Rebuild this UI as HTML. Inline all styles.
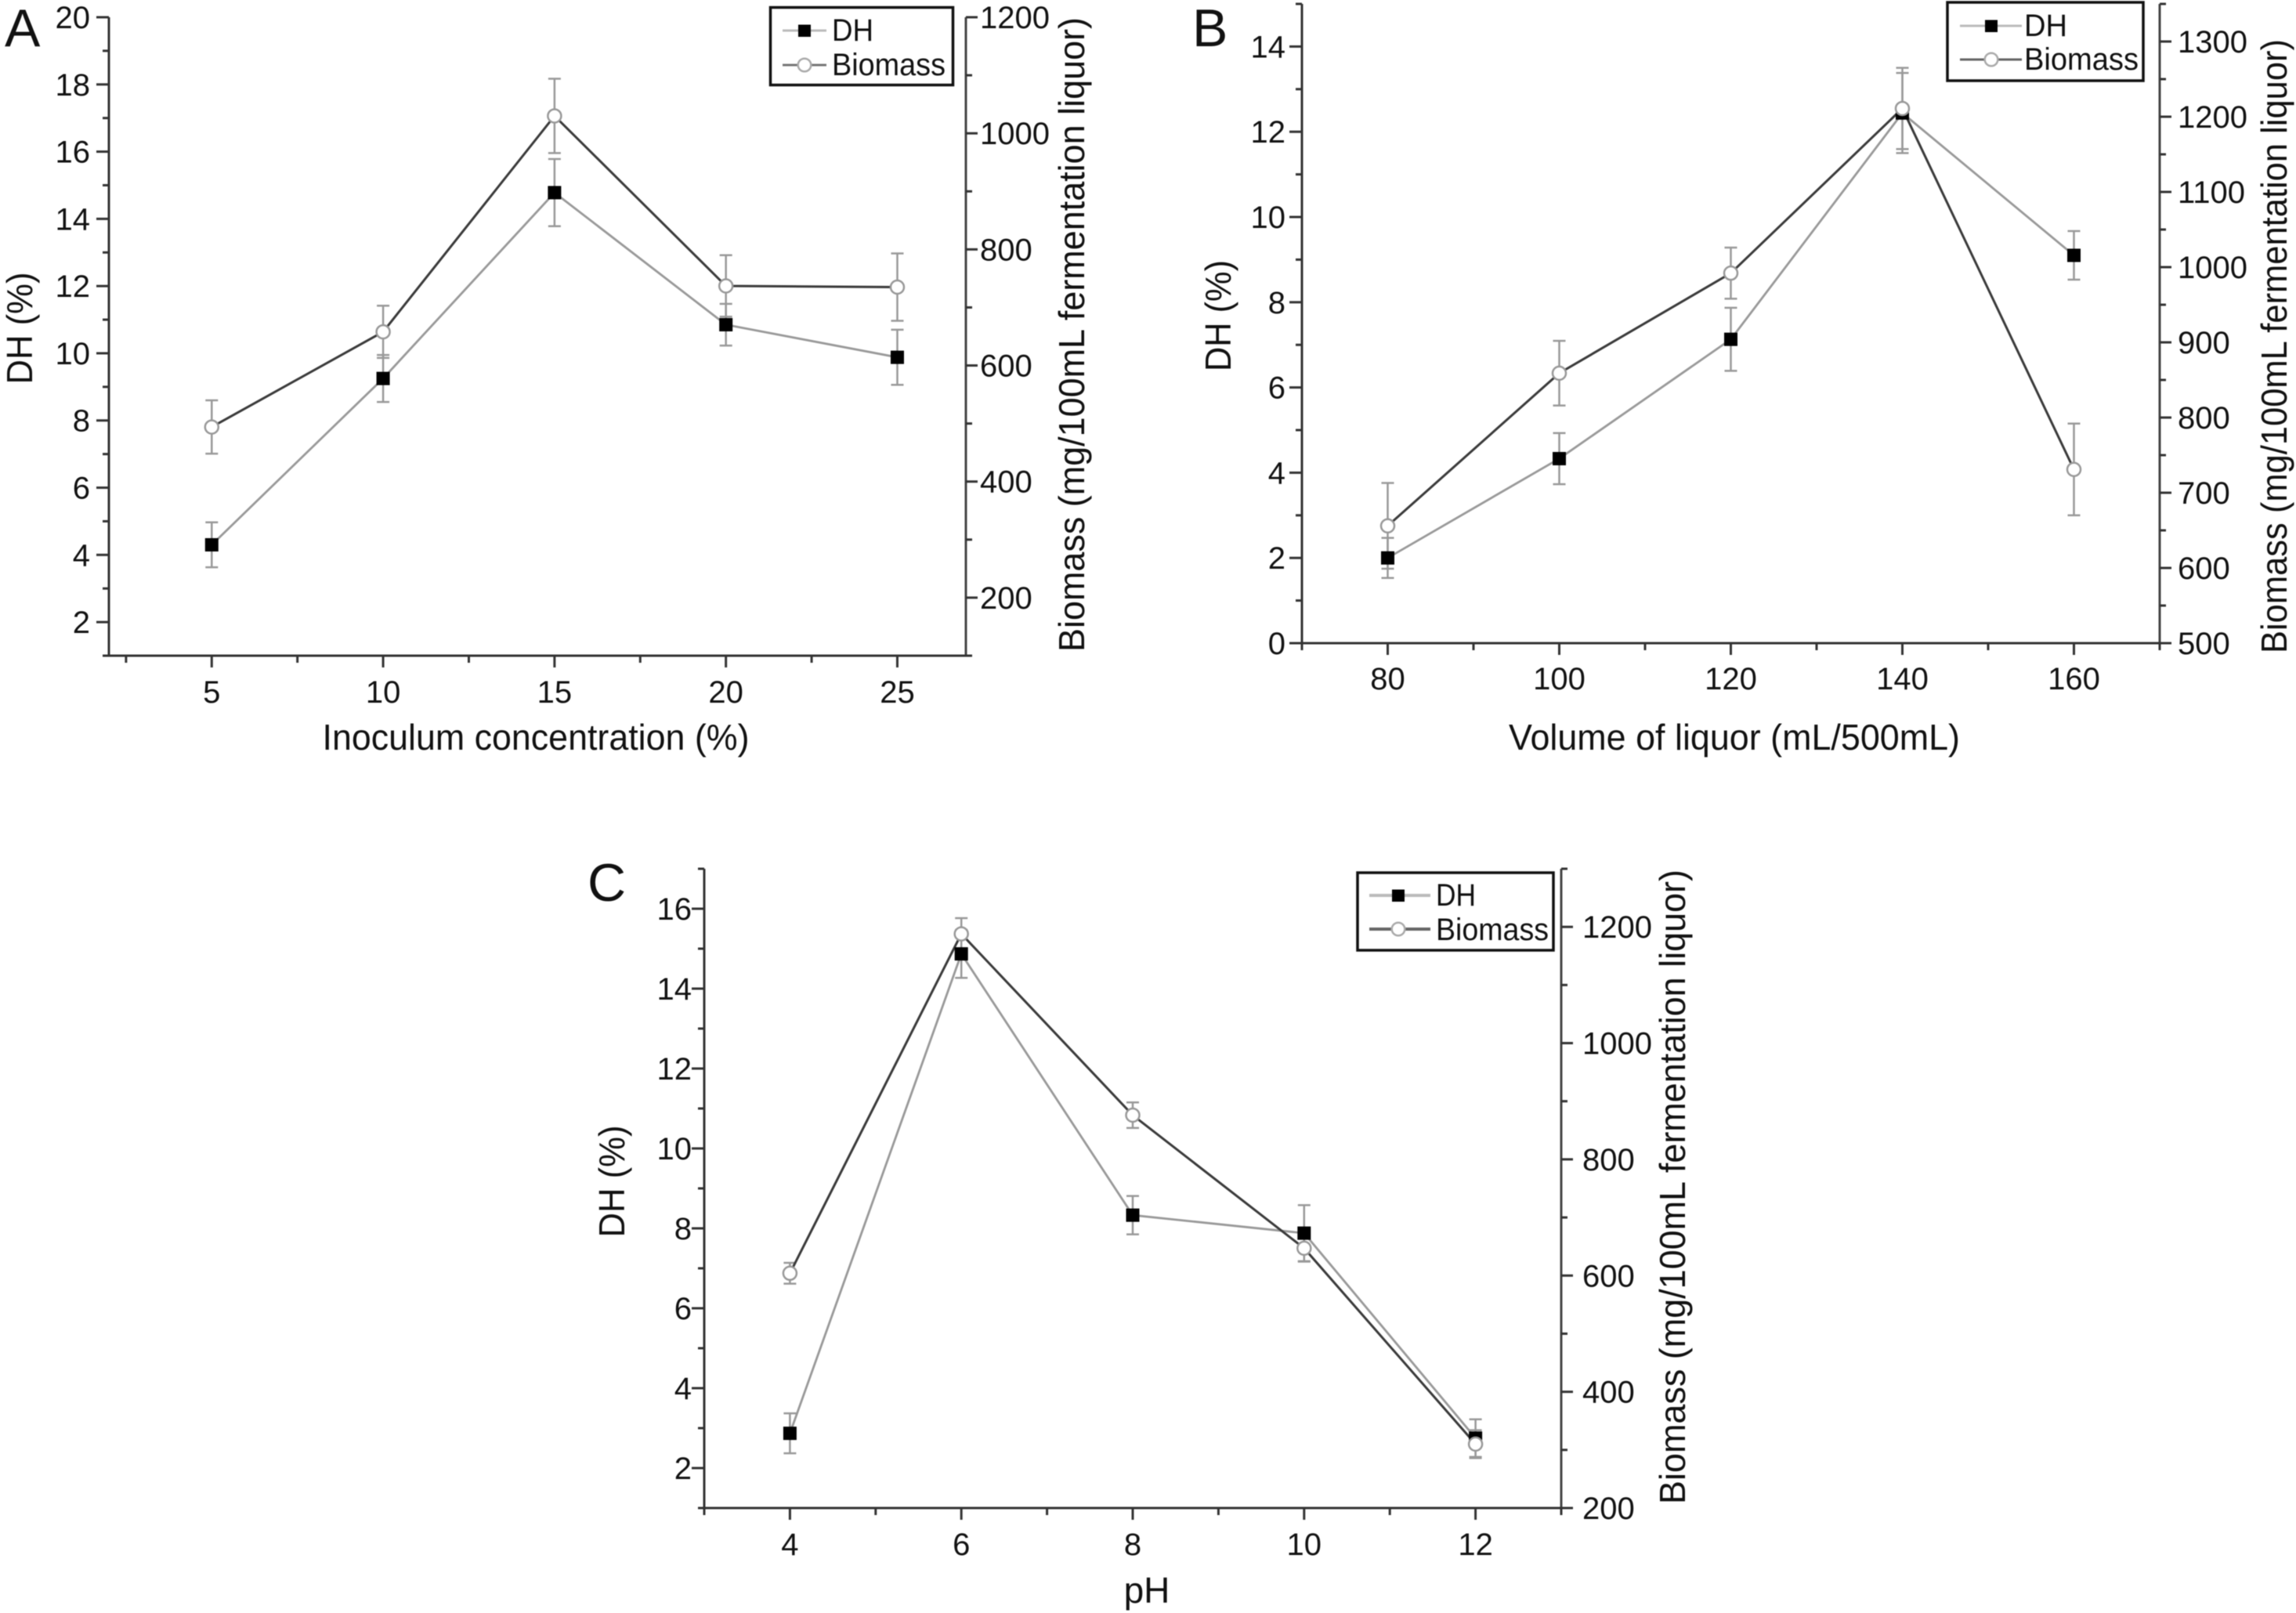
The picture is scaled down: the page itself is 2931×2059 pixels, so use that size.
<!DOCTYPE html>
<html lang="en">
<head>
<meta charset="utf-8">
<title>DH and biomass charts</title>
<style>
html,body{margin:0;padding:0;background:#fff;}
svg{display:block;font-family:"Liberation Sans",sans-serif;fill:#111;filter:blur(0.4px);}
.tick-label{font-size:40px;}
.axis-title{font-size:46px;}
.legend-text{font-size:40px;}
.panel-letter{font-size:68px;}
</style>
</head>
<body>
<svg id="figure" xmlns="http://www.w3.org/2000/svg" width="2931" height="2059" viewBox="0 0 2931 2059">
  <rect x="0" y="0" width="2931" height="2059" fill="#fff"/>

  <g id="panel-a">
    <text class="panel-letter" x="6" y="59">A</text>
    <text class="axis-title" x="684" y="957" text-anchor="middle" textLength="545" lengthAdjust="spacingAndGlyphs">Inoculum concentration (%)</text>
    <text class="axis-title" transform="translate(41,419) rotate(-90)" text-anchor="middle" textLength="143" lengthAdjust="spacingAndGlyphs">DH (%)</text>
    <text class="axis-title" transform="translate(1384,427) rotate(-90)" text-anchor="middle" textLength="810" lengthAdjust="spacingAndGlyphs">Biomass (mg/100mL fermentation liquor)</text>
  </g>

  <g id="panel-b">
    <text class="panel-letter" x="1522" y="59">B</text>
    <text class="axis-title" x="2214" y="957" text-anchor="middle" textLength="576" lengthAdjust="spacingAndGlyphs">Volume of liquor (mL/500mL)</text>
    <text class="axis-title" transform="translate(1571,403) rotate(-90)" text-anchor="middle" textLength="142" lengthAdjust="spacingAndGlyphs">DH (%)</text>
    <text class="axis-title" transform="translate(2919,442) rotate(-90)" text-anchor="middle" textLength="784" lengthAdjust="spacingAndGlyphs">Biomass (mg/100mL fermentation liquor)</text>
  </g>

  <g id="panel-c">
    <text class="panel-letter" x="750" y="1150">C</text>
    <text class="axis-title" x="1464" y="2046" text-anchor="middle">pH</text>
    <text class="axis-title" transform="translate(797,1508) rotate(-90)" text-anchor="middle" textLength="143" lengthAdjust="spacingAndGlyphs">DH (%)</text>
    <text class="axis-title" transform="translate(2151,1515) rotate(-90)" text-anchor="middle" textLength="810" lengthAdjust="spacingAndGlyphs">Biomass (mg/100mL fermentation liquor)</text>
  </g>

  <g id="legends">
    <g>
      <rect x="983.5" y="9.5" width="233" height="99" fill="#fff" stroke="#111" stroke-width="3.5"/>
      <line x1="999" y1="39" x2="1055" y2="39" stroke="#bbb" stroke-width="3"/>
      <rect x="1019" y="31.5" width="16" height="15.5" fill="#000"/>
      <text class="legend-text" x="1062" y="52" textLength="53" lengthAdjust="spacingAndGlyphs">DH</text>
      <line x1="999" y1="83" x2="1055" y2="83" stroke="#777" stroke-width="3"/>
      <circle cx="1027" cy="83" r="8.3" fill="#fff" stroke="#aaa" stroke-width="2.5"/>
      <text class="legend-text" x="1062" y="96" textLength="145" lengthAdjust="spacingAndGlyphs">Biomass</text>
    </g>
    <g>
      <rect x="2486" y="3" width="250" height="100" fill="#fff" stroke="#111" stroke-width="3.5"/>
      <line x1="2502" y1="33" x2="2581" y2="33" stroke="#bbb" stroke-width="3"/>
      <rect x="2534" y="25.5" width="16" height="15.5" fill="#000"/>
      <text class="legend-text" x="2584" y="46" textLength="55" lengthAdjust="spacingAndGlyphs">DH</text>
      <line x1="2502" y1="76" x2="2581" y2="76" stroke="#666" stroke-width="3"/>
      <circle cx="2542" cy="76" r="8.3" fill="#fff" stroke="#aaa" stroke-width="2.5"/>
      <text class="legend-text" x="2584" y="89" textLength="146" lengthAdjust="spacingAndGlyphs">Biomass</text>
    </g>
    <g>
      <rect x="1733" y="1114" width="250" height="99" fill="#fff" stroke="#111" stroke-width="3.5"/>
      <line x1="1748" y1="1143" x2="1826" y2="1143" stroke="#bbb" stroke-width="4"/>
      <rect x="1777" y="1135.5" width="16" height="15.5" fill="#000"/>
      <text class="legend-text" x="1833" y="1156" textLength="51" lengthAdjust="spacingAndGlyphs">DH</text>
      <line x1="1748" y1="1186" x2="1826" y2="1186" stroke="#666" stroke-width="4"/>
      <circle cx="1785" cy="1186" r="8.3" fill="#fff" stroke="#aaa" stroke-width="2.5"/>
      <text class="legend-text" x="1833" y="1200" textLength="144" lengthAdjust="spacingAndGlyphs">Biomass</text>
    </g>
  </g>
</svg>

<script>
// Panel A data
var aCategories = [5, 10, 15, 20, 25];
var aDh = [4.30, 9.25, 14.78, 10.85, 9.88];
var aDhErr = [0.67, 0.70, 1.00, 0.62, 0.82];
var aBiomass = [494, 658, 1030, 737, 735];
var aBiomassErr = [46, 45, 64, 53, 58];
var aXTicks = [5, 10, 15, 20, 25];
var aLeftTicks = [2, 4, 6, 8, 10, 12, 14, 16, 18, 20];
var aRightTicks = [200, 400, 600, 800, 1000, 1200];

// Panel B data
var bCategories = [80, 100, 120, 140, 160];
var bDh = [2.00, 4.33, 7.13, 12.44, 9.10];
var bDhErr = [0.47, 0.60, 0.74, 0.94, 0.57];
var bBiomass = [656, 859, 992, 1211, 731];
var bBiomassErr = [57, 43, 34, 54, 61];
var bXTicks = [80, 100, 120, 140, 160];
var bLeftTicks = [0, 2, 4, 6, 8, 10, 12, 14];
var bRightTicks = [500, 600, 700, 800, 900, 1000, 1100, 1200, 1300];

// Panel C data
var cCategories = [4, 6, 8, 10, 12];
var cDh = [2.87, 14.87, 8.33, 7.88, 2.75];
var cDhErr = [0.50, 0.60, 0.48, 0.70, 0.47];
var cBiomass = [604, 1188, 876, 647, 310];
var cBiomassErr = [18, 27, 22, 23, 24];
var cXTicks = [4, 6, 8, 10, 12];
var cLeftTicks = [2, 4, 6, 8, 10, 12, 14, 16];
var cRightTicks = [200, 400, 600, 800, 1000, 1200];

var SVG_NS = 'http://www.w3.org/2000/svg';

function drawLine(parent, name, x1, y1, x2, y2, color, width) {
  var el = document.createElementNS(SVG_NS, 'line');
  
  
  el.setAttribute('x1', x1);
  el.setAttribute('y1', y1);
  el.setAttribute('x2', x2);
  el.setAttribute('y2', y2);
  el.setAttribute('stroke', color);
  el.setAttribute('stroke-width', width);
  parent.appendChild(el);
  return el;
}

function drawLabel(parent, name, x, y, anchor, content) {
  var el = document.createElementNS(SVG_NS, 'text');
  
  
  el.setAttribute('class', 'tick-label');
  el.setAttribute('x', x);
  el.setAttribute('y', y);
  el.setAttribute('text-anchor', anchor);
  el.textContent = content;
  parent.appendChild(el);
  return el;
}

function minorValues(ticks, min, max) {
  var half = (ticks[1] - ticks[0]) / 2;
  var out = [];
  for (var k = -40; k <= 80; k++) {
    var v = ticks[0] + half * k;
    if (k % 2 !== 0 && v >= min - 1e-9 && v <= max + 1e-9) {
      out.push(v);
    }
  }
  return out;
}

function drawPanel(o) {
  var holder = document.getElementById(o.id);
  var p = o.prefix;

  function xs(v) {
    return o.left + (v - o.xMin) / (o.xMax - o.xMin) * (o.right - o.left);
  }
  function yl(v) {
    return o.bottom - (v - o.lMin) / (o.lMax - o.lMin) * (o.bottom - o.top);
  }
  function yr(v) {
    return o.bottom - (v - o.rMin) / (o.rMax - o.rMin) * (o.bottom - o.top);
  }

  var axisColor = '#333';
  var i, v;

  drawLine(holder, p + '-left-axis', o.left, o.top, o.left, o.bottom, axisColor, 3);
  drawLine(holder, p + '-right-axis', o.right, o.top, o.right, o.bottom, '#444', 3);
  drawLine(holder, p + '-x-axis', o.left - 7, o.bottom, o.right + 7, o.bottom, axisColor, 3);

  for (i = 0; i < o.xTicks.length; i++) {
    v = o.xTicks[i];
    drawLine(holder, p + '-x-tick', xs(v), o.bottom, xs(v), o.bottom + 15, axisColor, 3);
    drawLabel(holder, p + '-x-tick-label', xs(v), o.xLabelY, 'middle', String(v));
  }
  var xMinor = minorValues(o.xTicks, o.xMin, o.xMax);
  for (i = 0; i < xMinor.length; i++) {
    drawLine(holder, p + '-x-minor-tick', xs(xMinor[i]), o.bottom, xs(xMinor[i]), o.bottom + 9, axisColor, 3);
  }

  for (i = 0; i < o.leftTicks.length; i++) {
    v = o.leftTicks[i];
    drawLine(holder, p + '-left-tick', o.left - 16, yl(v), o.left, yl(v), axisColor, 3);
    drawLabel(holder, p + '-left-tick-label', o.leftLabelX, yl(v) + 14, 'end', String(v));
  }
  var lMinor = minorValues(o.leftTicks, o.lMin, o.lMax);
  for (i = 0; i < lMinor.length; i++) {
    drawLine(holder, p + '-left-minor-tick', o.left - 8, yl(lMinor[i]), o.left, yl(lMinor[i]), axisColor, 3);
  }

  for (i = 0; i < o.rightTicks.length; i++) {
    v = o.rightTicks[i];
    drawLine(holder, p + '-right-tick', o.right, yr(v), o.right + 15, yr(v), axisColor, 3);
    drawLabel(holder, p + '-right-tick-label', o.rightLabelX, yr(v) + 14, 'start', String(v));
  }
  var rMinor = minorValues(o.rightTicks, o.rMin, o.rMax);
  for (i = 0; i < rMinor.length; i++) {
    drawLine(holder, p + '-right-minor-tick', o.right, yr(rMinor[i]), o.right + 8, yr(rMinor[i]), axisColor, 3);
  }

  function errorBars(name, vals, errs, scale) {
    for (var k = 0; k < vals.length; k++) {
      var x = xs(o.categories[k]);
      var hi = scale(vals[k] + errs[k]);
      var lo = scale(vals[k] - errs[k]);
      drawLine(holder, name + '-error-bar', x, hi, x, lo, '#999', 2.5);
      drawLine(holder, name + '-error-cap', x - 8, hi, x + 8, hi, '#999', 2.5);
      drawLine(holder, name + '-error-cap', x - 8, lo, x + 8, lo, '#999', 2.5);
    }
  }
  function seriesLine(name, vals, scale, color, width) {
    var pts = [];
    for (var k = 0; k < vals.length; k++) {
      pts.push(xs(o.categories[k]) + ',' + scale(vals[k]));
    }
    var el = document.createElementNS(SVG_NS, 'polyline');
    
    
    el.setAttribute('points', pts.join(' '));
    el.setAttribute('fill', 'none');
    el.setAttribute('stroke', color);
    el.setAttribute('stroke-width', width);
    holder.appendChild(el);
  }

  errorBars(p + '-dh', o.dh, o.dhErr, yl);
  errorBars(p + '-biomass', o.biomass, o.biomassErr, yr);
  seriesLine(p + '-dh-line', o.dh, yl, '#999', 2.8);
  seriesLine(p + '-biomass-line', o.biomass, yr, '#3a3a3a', 3);

  for (i = 0; i < o.categories.length; i++) {
    var sq = document.createElementNS(SVG_NS, 'rect');
    
    
    sq.setAttribute('x', xs(o.categories[i]) - 8.5);
    sq.setAttribute('y', yl(o.dh[i]) - 8.5);
    sq.setAttribute('width', 17);
    sq.setAttribute('height', 17);
    sq.setAttribute('fill', '#000');
    holder.appendChild(sq);
  }
  for (i = 0; i < o.categories.length; i++) {
    var c = document.createElementNS(SVG_NS, 'circle');
    
    
    c.setAttribute('cx', xs(o.categories[i]));
    c.setAttribute('cy', yr(o.biomass[i]));
    c.setAttribute('r', 8.5);
    c.setAttribute('fill', '#fff');
    c.setAttribute('stroke', '#999');
    c.setAttribute('stroke-width', 2.5);
    holder.appendChild(c);
  }
}

drawPanel({
  id: 'panel-a', prefix: 'panel-a',
  left: 139, right: 1233, top: 22, bottom: 837,
  xMin: 2, xMax: 27, lMin: 1, lMax: 20, rMin: 100, rMax: 1200,
  xLabelY: 897, leftLabelX: 115, rightLabelX: 1251,
  categories: aCategories, dh: aDh, dhErr: aDhErr, biomass: aBiomass, biomassErr: aBiomassErr,
  xTicks: aXTicks, leftTicks: aLeftTicks, rightTicks: aRightTicks
});
drawPanel({
  id: 'panel-b', prefix: 'panel-b',
  left: 1662, right: 2757, top: 5, bottom: 821,
  xMin: 70, xMax: 170, lMin: 0, lMax: 15, rMin: 500, rMax: 1350,
  xLabelY: 880, leftLabelX: 1641, rightLabelX: 2780,
  categories: bCategories, dh: bDh, dhErr: bDhErr, biomass: bBiomass, biomassErr: bBiomassErr,
  xTicks: bXTicks, leftTicks: bLeftTicks, rightTicks: bRightTicks
});
drawPanel({
  id: 'panel-c', prefix: 'panel-c',
  left: 899, right: 1993, top: 1109, bottom: 1925,
  xMin: 3, xMax: 13, lMin: 1, lMax: 17, rMin: 200, rMax: 1300,
  xLabelY: 1985, leftLabelX: 883, rightLabelX: 2020,
  categories: cCategories, dh: cDh, dhErr: cDhErr, biomass: cBiomass, biomassErr: cBiomassErr,
  xTicks: cXTicks, leftTicks: cLeftTicks, rightTicks: cRightTicks
});

// Keep the legends above the plotted marks
var figure = document.getElementById('figure');
figure.appendChild(document.getElementById('legends'));
</script>
</body>
</html>
